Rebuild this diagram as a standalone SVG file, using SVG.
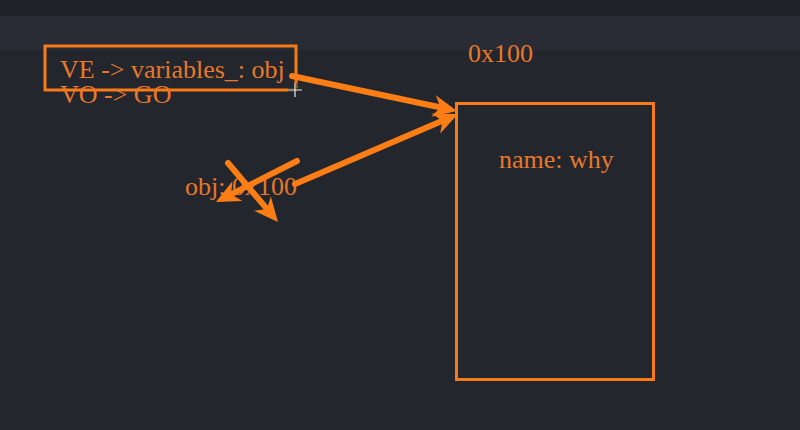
<svg xmlns="http://www.w3.org/2000/svg" width="800" height="430" viewBox="0 0 800 430">
  <style>
    .lbl { font-family: "Liberation Serif", "Times New Roman", serif; font-size: 26px; fill: #e8782c; }
    .box { fill: none; stroke: #f97a18; stroke-width: 3; }
    .arr { fill: none; stroke: #fb7d16; stroke-width: 6; stroke-linecap: round; marker-end: url(#head); }
  </style>
  <defs>
    <marker id="head" markerUnits="userSpaceOnUse" markerWidth="30" markerHeight="30" refX="-8" refY="0" orient="auto" overflow="visible">
      <path d="M0,0 L-24,-11 L-17,0 L-24,11 Z" fill="#fb7d16"/>
    </marker>
  </defs>
  <rect x="0" y="0" width="800" height="430" fill="#23262d"/>
  <rect x="0" y="0" width="800" height="16" fill="#1f2127"/>
  <rect x="0" y="16" width="800" height="34" fill="#292c34"/>

  <g id="env">
    <rect class="box" x="45" y="46" width="251" height="44"/>
    <text class="lbl" x="60" y="78">VE -&gt; variables_: obj</text>
    <text class="lbl" x="60" y="103">VO -&gt; GO</text>
  </g>

  <g id="addr">
    <text class="lbl" x="468" y="62">0x100</text>
  </g>

  <g id="heapobj">
    <rect class="box" x="456.5" y="103.5" width="197" height="276"/>
    <text class="lbl" x="499" y="168">name: why</text>
  </g>

  <g id="objlabel">
    <text class="lbl" x="185" y="195">obj: 0x100</text>
  </g>

  <g id="connectors">
    <line class="arr" x1="292" y1="76" x2="449.2" y2="109.3"/>
    <line class="arr" x1="295" y1="184" x2="450.6" y2="117.2"/>
    <line class="arr" x1="297" y1="161" x2="223.1" y2="198.4"/>
    <line class="arr" x1="228" y1="163" x2="272.8" y2="215.9"/>
  </g>

  <g id="cursor">
    <path d="M288,90 H302 M295,83 V97" stroke="#222" stroke-width="3"/>
    <path d="M288,90 H302 M295,83 V97" stroke="#f0f0f0" stroke-width="1.2"/>
  </g>
</svg>
